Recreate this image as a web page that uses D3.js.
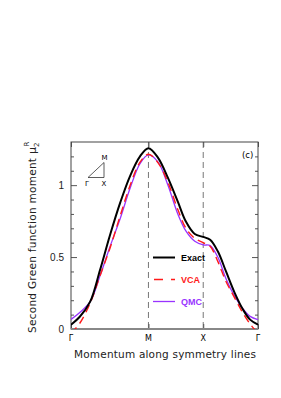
<!DOCTYPE html>
<html>
<head>
<meta charset="utf-8">
<script src="https://cdn.jsdelivr.net/npm/d3@7"></script>
<style>
  html, body { margin: 0; padding: 0; background: #fff; }
  svg { display: block; }
</style>
</head>
<body>
<svg id="chart" width="281" height="398"></svg>
<script>
// path position along Γ-M-X-Γ (Γ-M = √2, M-X = 1, X-Γ = 1)
const symLabels = ["Γ", "M", "X", "Γ"];
const symPos = [0, 1.414, 2.414, 3.414];

const kPath = [0, 0.16, 0.35, 0.53, 0.71, 0.90, 1.08, 1.26, 1.414, 1.59, 1.77, 1.95, 2.10, 2.26, 2.414, 2.54, 2.68, 2.83, 2.99, 3.14, 3.27, 3.414];
const exact = [0.03, 0.085, 0.19, 0.41, 0.65, 0.88, 1.065, 1.20, 1.257, 1.19, 1.05, 0.885, 0.745, 0.66, 0.64, 0.62, 0.54, 0.40, 0.25, 0.135, 0.065, 0.03];
const vca   = [-0.03, 0.04, 0.18, 0.37, 0.56, 0.79, 1.00, 1.16, 1.215, 1.155, 1.02, 0.83, 0.70, 0.63, 0.60, 0.575, 0.47, 0.33, 0.215, 0.11, 0.035, -0.03];
const qmc   = [0.067, 0.115, 0.19, 0.37, 0.57, 0.77, 0.98, 1.15, 1.21, 1.16, 1.00, 0.80, 0.68, 0.61, 0.585, 0.58, 0.50, 0.35, 0.226, 0.14, 0.088, 0.065];

const yTicks = [0, 0.5, 1];
const yMinor = [0.1, 0.2, 0.3, 0.4, 0.6, 0.7, 0.8, 0.9, 1.1, 1.2];

const seriesNames = ["Exact", "VCA", "QMC"];
const seriesColors = ["#000000", "#ff1a1a", "#9933ff"];

const svg = d3.select("#chart");
const pLeft = 71, pRight = 258, pTop = 142, pBottom = 329;

const x = d3.scaleLinear().domain([0, 3.414]).range([pLeft, pRight]);
const y = d3.scaleLinear().domain([0, 1.3]).range([pBottom, pTop]);

svg.append("clipPath").attr("id", "clip")
  .append("rect").attr("x", pLeft).attr("y", pTop)
  .attr("width", pRight - pLeft).attr("height", pBottom - pTop);

// dashed symmetry lines
svg.append("g").selectAll("line")
  .data(symPos.slice(1, 3))
  .enter().append("line")
  .attr("x1", d => x(d)).attr("x2", d => x(d))
  .attr("y1", pTop).attr("y2", pBottom)
  .attr("stroke", "#777").attr("stroke-width", 1)
  .attr("stroke-dasharray", "6,4");

// y axes, ticks inward on both sides
const yl = svg.append("g").attr("transform", "translate(" + pLeft + ",0)")
  .call(d3.axisRight(y).tickValues(yTicks).tickSize(6).tickFormat(""));
const yl2 = svg.append("g").attr("transform", "translate(" + pLeft + ",0)")
  .call(d3.axisRight(y).tickValues(yMinor).tickSize(3).tickFormat(""));
const yr = svg.append("g").attr("transform", "translate(" + pRight + ",0)")
  .call(d3.axisLeft(y).tickValues(yTicks).tickSize(6).tickFormat(""));
const yr2 = svg.append("g").attr("transform", "translate(" + pRight + ",0)")
  .call(d3.axisLeft(y).tickValues(yMinor).tickSize(3).tickFormat(""));
[yl, yl2, yr, yr2].forEach(g => {
  g.select(".domain").remove();
  g.selectAll(".tick line").attr("stroke", "#555");
});

// y tick labels
svg.append("g").selectAll("text")
  .data(yTicks)
  .enter().append("text")
  .attr("x", 64).attr("y", d => y(d) + 3.5)
  .attr("text-anchor", "end")
  .attr("font-family", "Liberation Sans, Arial, sans-serif")
  .attr("font-size", 10)
  .attr("fill", "#222")
  .text(d => d === 0.5 ? "0.5" : d);

// x ticks at symmetry points
const xb = svg.append("g").attr("transform", "translate(0," + pBottom + ")")
  .call(d3.axisTop(x).tickValues(symPos).tickSize(5).tickFormat(""));
const xt = svg.append("g").attr("transform", "translate(0," + pTop + ")")
  .call(d3.axisBottom(x).tickValues(symPos).tickSize(5).tickFormat(""));
[xb, xt].forEach(g => {
  g.select(".domain").remove();
  g.selectAll(".tick line").attr("stroke", "#555");
});

svg.append("g").selectAll("text")
  .data(symPos)
  .enter().append("text")
  .attr("x", d => x(d)).attr("y", 341)
  .attr("text-anchor", "middle")
  .attr("font-family", "DejaVu Sans, sans-serif")
  .attr("font-size", 8)
  .text((d, i) => symLabels[i]);

// frame
svg.append("rect")
  .attr("x", pLeft).attr("y", pTop)
  .attr("width", pRight - pLeft).attr("height", pBottom - pTop)
  .attr("fill", "none").attr("stroke", "#444").attr("stroke-width", 1);
svg.append("line")
  .attr("x1", pLeft).attr("x2", pRight).attr("y1", pBottom).attr("y2", pBottom)
  .attr("stroke", "#888").attr("stroke-width", 2);

// curves
const line = d3.line()
  .x(d => x(d[0])).y(d => y(d[1]))
  .curve(d3.curveCatmullRom.alpha(0.5));

const allSeries = [exact, vca, qmc];
const styles = [
  { w: 2, dash: null },
  { w: 1.4, dash: "8,5" },
  { w: 1.3, dash: null }
];
const curves = svg.append("g").attr("clip-path", "url(#clip)");
[2, 1, 0].forEach(i => {
  curves.append("path")
    .datum(kPath.map((k, j) => [k, allSeries[i][j]]))
    .attr("d", line)
    .attr("fill", "none")
    .attr("stroke", seriesColors[i])
    .attr("stroke-width", styles[i].w)
    .attr("stroke-dasharray", styles[i].dash);
});

// legend
const legend = svg.append("g");
seriesNames.forEach((name, i) => {
  const ly = 257.5 + i * 22;
  legend.append("line")
    .attr("x1", 153).attr("x2", 175).attr("y1", ly).attr("y2", ly)
    .attr("stroke", seriesColors[i])
    .attr("stroke-width", styles[i].w)
    .attr("stroke-dasharray", styles[i].dash ? "9,8" : null)
    .attr("stroke-dashoffset", styles[i].dash ? -1 : null);
  legend.append("text")
    .attr("x", 181).attr("y", ly + 3.2)
    .attr("font-family", "Liberation Sans, Arial, sans-serif")
    .attr("font-size", 9).attr("font-weight", "bold")
    .attr("fill", seriesColors[i])
    .text(name);
});

// panel label
svg.append("text")
  .attr("x", 242).attr("y", 158)
  .attr("font-family", "DejaVu Sans, sans-serif")
  .attr("font-size", 8.5)
  .text("(c)");

// Brillouin zone triangle inset
svg.append("path")
  .attr("d", "M88,177.5 L104,177.5 L104,162.5 Z")
  .attr("fill", "none").attr("stroke", "#333").attr("stroke-width", 0.8);
[["M", 104.5, 159.5], ["Γ", 87, 185.5], ["X", 104, 185.5]].forEach(t => {
  svg.append("text")
    .attr("x", t[1]).attr("y", t[2])
    .attr("text-anchor", "middle")
    .attr("font-family", "DejaVu Sans, sans-serif")
    .attr("font-size", 7)
    .text(t[0]);
});

// axis titles
svg.append("text")
  .attr("x", 74).attr("y", 358)
  .attr("font-family", "DejaVu Sans, sans-serif")
  .attr("font-size", 10.5)
  .attr("fill", "#222")
  .attr("textLength", 182).attr("lengthAdjust", "spacing")
  .text("Momentum along symmetry lines");

svg.append("text")
  .attr("transform", "translate(36,333) rotate(-90)")
  .attr("font-family", "DejaVu Sans, sans-serif")
  .attr("font-size", 10.5)
  .attr("fill", "#222")
  .attr("textLength", 175).attr("lengthAdjust", "spacing")
  .text("Second Green function moment");

const mu = svg.append("text")
  .attr("transform", "translate(36,154) rotate(-90)")
  .attr("font-family", "DejaVu Sans, sans-serif")
  .attr("font-size", 11)
  .attr("fill", "#222");
mu.append("tspan").text("μ");
mu.append("tspan").attr("font-size", 7).attr("dy", 3).text("2");
mu.append("tspan").attr("font-size", 7).attr("dx", -4).attr("dy", -10).text("R");
</script>
</body>
</html>
